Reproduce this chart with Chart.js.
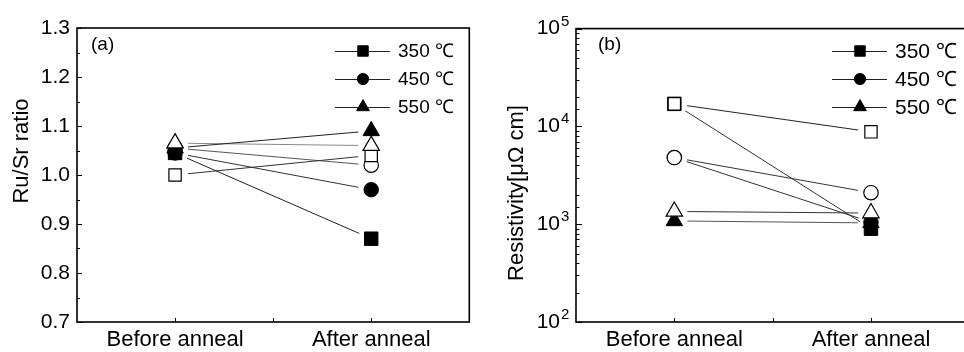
<!DOCTYPE html>
<html>
<head>
<meta charset="utf-8">
<script src="https://cdn.jsdelivr.net/npm/chart.js@4.4.1/dist/chart.umd.min.js"></script>
<style>
  html, body { margin: 0; padding: 0; background: #fff; overflow: hidden; width: 964px; height: 352px; }
  .panel { position: absolute; top: 0; }
  #panelA { left: 0; }
  #panelB { left: 480px; }
</style>
</head>
<body>
<div class="panel" id="panelA"><canvas id="ratioChart" width="480" height="352"></canvas></div>
<div class="panel" id="panelB"><canvas id="resistChart" width="500" height="352"></canvas></div>
<script>
const FONT = "'Liberation Sans', Arial, sans-serif";

const phases = ['Before anneal', 'After anneal'];
const temps = ['350 ℃', '450 ℃', '550 ℃'];
const shapes = ['rect', 'circle', 'triangle'];

// Ru/Sr ratio (panel a), filled and open symbols
const ratioFilled350 = [1.045, 0.87];
const ratioFilled450 = [1.045, 0.97];
const ratioFilled550 = [1.055, 1.09];
const ratioOpen350 = [1.00, 1.04];
const ratioOpen450 = [1.055, 1.02];
const ratioOpen550 = [1.065, 1.06];

// resistivity in μΩ cm (panel b)
const resFilled350 = [17000, 900];
const resFilled450 = [4800, 1050];
const resFilled550 = [1080, 1030];
const resOpen350 = [17000, 8800];
const resOpen450 = [4800, 2100];
const resOpen550 = [1350, 1300];

const ratioTicks = [0.7, 0.8, 0.9, 1.0, 1.1, 1.2, 1.3];

const markerRadius = { rect: 9.5, circle: 7.2, triangle: 9.5 };

// one line dataset (drawn underneath, with gaps at the symbols) and one symbol dataset per series.
// openOrder sets the stacking of the open symbols (lower = drawn later, on top)
function buildDatasets(filled, open, lineColors, openOrder) {
  const sets = [];
  filled.forEach((vals, i) => {
    sets.push({ data: vals, gapLine: true, borderColor: lineColors[i], borderWidth: 1, pointRadius: 0, order: 5 });
  });
  open.forEach((vals, i) => {
    sets.push({ data: vals, gapLine: true, borderColor: lineColors[i + 3], borderWidth: 1, pointRadius: 0, order: 5 });
  });
  filled.forEach((vals, i) => {
    sets.push({
      label: temps[i], legendEntry: true, data: vals, showLine: false,
      pointStyle: shapes[i], pointRadius: markerRadius[shapes[i]],
      pointBackgroundColor: '#000', pointBorderColor: '#000', pointBorderWidth: 1, order: 2
    });
  });
  open.forEach((vals, i) => {
    sets.push({
      data: vals, showLine: false,
      pointStyle: shapes[i], pointRadius: markerRadius[shapes[i]] - (shapes[i] === 'rect' ? 0.8 : 0),
      pointBackgroundColor: '#fff', pointBorderColor: '#000', pointBorderWidth: 1.2, order: openOrder[i]
    });
  });
  return sets;
}

// frame, inside ticks, legend, panel tag and axis title
const decorPlugin = {
  id: 'decor',
  beforeDatasetDraw(chart, args) {
    const ds = chart.data.datasets[args.index];
    if (!ds.gapLine) return;
    const ctx = chart.ctx;
    const a = chart.chartArea;
    const gap = 13;
    ctx.save();
    ctx.beginPath();
    ctx.rect(a.left, a.top, a.right - a.left, a.bottom - a.top);
    args.meta.data.forEach(p => {
      ctx.moveTo(p.x + gap, p.y);
      ctx.arc(p.x, p.y, gap, 0, Math.PI * 2, true);
    });
    ctx.clip('evenodd');
  },
  afterDatasetDraw(chart, args) {
    if (chart.data.datasets[args.index].gapLine) chart.ctx.restore();
  },
  afterDraw(chart, args, opts) {
    const ctx = chart.ctx;
    const a = chart.chartArea;
    const xs = chart.scales.x;
    const ys = chart.scales.y;
    ctx.save();
    ctx.strokeStyle = '#000';
    ctx.fillStyle = '#000';

    // x ticks: at both categories and between them
    ctx.lineWidth = 1;
    const xt = [xs.getPixelForValue(0), (a.left + a.right) / 2, xs.getPixelForValue(1)];
    ctx.beginPath();
    xt.forEach(x => { ctx.moveTo(Math.round(x) + 0.5, a.bottom); ctx.lineTo(Math.round(x) + 0.5, a.bottom - 4); });
    ctx.stroke();

    // y ticks
    ctx.beginPath();
    if (opts.logAxis) {
      ys.ticks.forEach(t => {
        const major = Math.abs(Math.log10(t.value) % 1) < 1e-6;
        const y = Math.round(ys.getPixelForValue(t.value)) + 0.5;
        ctx.moveTo(a.left, y); ctx.lineTo(a.left + (major ? 6 : 3.5), y);
      });
    } else {
      const vals = ys.ticks.map(t => t.value);
      vals.forEach((v, i) => {
        const y = Math.round(ys.getPixelForValue(v)) + 0.5;
        ctx.moveTo(a.left, y); ctx.lineTo(a.left + 5, y);
        if (i < vals.length - 1) {
          const ym = Math.round(ys.getPixelForValue((v + vals[i + 1]) / 2)) + 0.5;
          ctx.moveTo(a.left, ym); ctx.lineTo(a.left + 3, ym);
        }
      });
    }
    ctx.stroke();

    // superscript exponents next to the "10" labels
    if (opts.logAxis) {
      ctx.font = '15px ' + FONT;
      ctx.textAlign = 'left';
      ctx.textBaseline = 'alphabetic';
      ys.ticks.forEach(t => {
        const e = Math.log10(t.value);
        if (Math.abs(e - Math.round(e)) < 1e-6) {
          const y = ys.getPixelForValue(t.value);
          ctx.fillText(String(Math.round(e)), a.left - 15, y - 3);
        }
      });
    }

    // frame
    ctx.lineWidth = 1.6;
    ctx.strokeRect(a.left, a.top, a.right - a.left, a.bottom - a.top);

    // panel tag
    ctx.font = '19px ' + FONT;
    ctx.textAlign = 'left';
    ctx.textBaseline = 'middle';
    ctx.fillText(opts.tag, opts.tagX, opts.tagY);

    // legend
    const entries = chart.data.datasets.filter(d => d.legendEntry);
    entries.forEach((d, i) => {
      const y = opts.legendY + i * 28;
      ctx.lineWidth = 1;
      ctx.strokeStyle = '#222';
      ctx.beginPath();
      ctx.moveTo(opts.legendX, y + 0.5);
      ctx.lineTo(opts.legendX + 55, y + 0.5);
      ctx.stroke();
      Chart.helpers.drawPoint(ctx, {
        pointStyle: d.pointStyle, radius: d.pointRadius * 0.78, borderWidth: 1, rotation: 0
      }, opts.legendX + 28, y);
      ctx.fillStyle = '#000';
      ctx.fill();
      ctx.font = opts.legendFont + 'px ' + FONT;
      ctx.textBaseline = 'middle';
      ctx.fillText(d.label, opts.legendX + 63, y + 1);
    });

    // y axis title
    ctx.save();
    ctx.translate(opts.titleX, opts.titleY);
    ctx.rotate(-Math.PI / 2);
    ctx.font = opts.titleFont + 'px ' + FONT;
    ctx.textAlign = 'center';
    ctx.textBaseline = 'middle';
    ctx.fillText(opts.title, 0, 0);
    ctx.restore();

    ctx.restore();
  }
};

function xScale() {
  return {
    type: 'category', labels: phases, offset: true,
    grid: { display: false, drawTicks: false }, border: { display: false },
    ticks: { color: '#000', font: { family: FONT, size: 22 }, padding: 5, maxRotation: 0, autoSkip: false },
    afterFit(s) { s.height = 30; }
  };
}

new Chart(document.getElementById('ratioChart'), {
  type: 'line',
  data: {
    labels: phases,
    datasets: buildDatasets(
      [ratioFilled350, ratioFilled450, ratioFilled550],
      [ratioOpen350, ratioOpen450, ratioOpen550],
      ['#222', '#333', '#222', '#333', '#555', '#888'],
      [3, 3, 0]
    )
  },
  options: {
    responsive: false, animation: false, events: [],
    layout: { padding: { left: 0, right: 8, top: 28, bottom: 0 } },
    plugins: {
      legend: { display: false }, tooltip: { enabled: false },
      decor: {
        tag: '(a)', tagX: 91, tagY: 45,
        legendX: 335, legendY: 51, legendFont: 19,
        title: 'Ru/Sr ratio', titleX: 22, titleY: 151, titleFont: 22
      }
    },
    scales: {
      x: xScale(),
      y: {
        min: 0.7, max: 1.3,
        grid: { display: false, drawTicks: false }, border: { display: false },
        afterBuildTicks(s) { s.ticks = ratioTicks.map(v => ({ value: v })); },
        ticks: { color: '#000', font: { family: FONT, size: 21 }, padding: 7, callback: v => v.toFixed(1) },
        afterFit(s) { s.width = 77; }
      }
    }
  },
  plugins: [decorPlugin]
});

new Chart(document.getElementById('resistChart'), {
  type: 'line',
  data: {
    labels: phases,
    datasets: buildDatasets(
      [resFilled350, resFilled450, resFilled550],
      [resOpen350, resOpen450, resOpen550],
      ['#333', '#333', '#555', '#222', '#333', '#333'],
      [1, 1, 1]
    )
  },
  options: {
    responsive: false, animation: false, events: [],
    layout: { padding: { left: 0, right: 10, top: 28, bottom: 0 } },
    plugins: {
      legend: { display: false }, tooltip: { enabled: false },
      decor: {
        logAxis: true,
        tag: '(b)', tagX: 118, tagY: 45,
        legendX: 352, legendY: 51, legendFont: 21,
        title: 'Resistivity[μΩ cm]', titleX: 37, titleY: 193, titleFont: 22
      }
    },
    scales: {
      x: xScale(),
      y: {
        type: 'logarithmic', min: 100, max: 100000,
        grid: { display: false, drawTicks: false }, border: { display: false },
        ticks: {
          color: '#000', font: { family: FONT, size: 21 }, padding: 16, autoSkip: false,
          callback: v => (Math.abs(Math.log10(v) % 1) < 1e-6 ? '10' : '')
        },
        afterFit(s) { s.width = 96; }
      }
    }
  },
  plugins: [decorPlugin]
});
</script>
</body>
</html>
